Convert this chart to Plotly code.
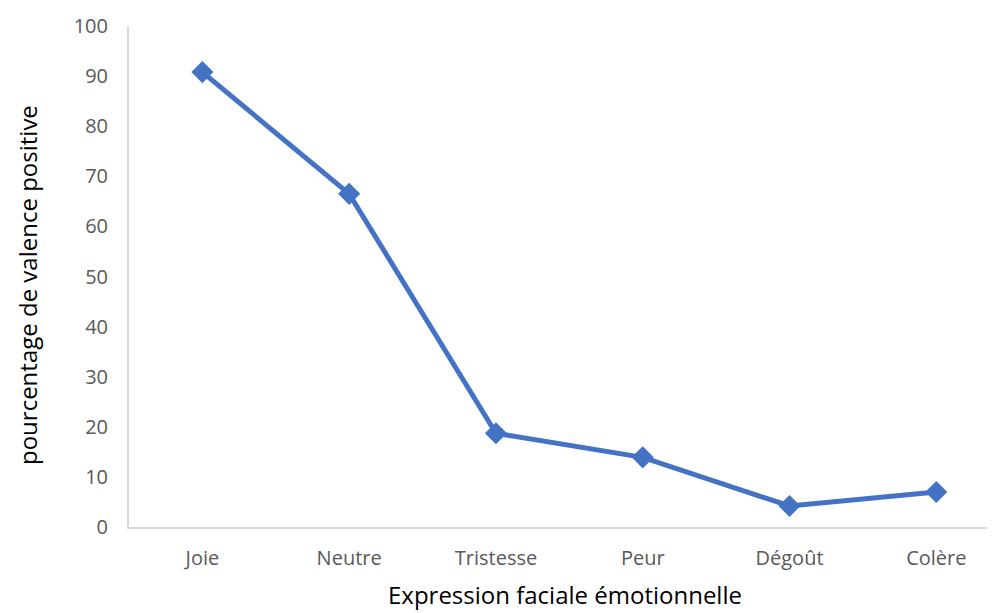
import plotly.graph_objects as go

categories = ["Joie", "Neutre", "Tristesse", "Peur", "Dégoût", "Colère"]
values = [90.8, 66.5, 18.7, 13.9, 4.2, 7.0]
y_ticks = [0, 10, 20, 30, 40, 50, 60, 70, 80, 90, 100]

# page body has an 8px margin, so the figure is sized/positioned accordingly
OFF = 8
W, H = 995 - OFF, 613 - OFF
L, R, T = 129 - OFF, 0, 26 - OFF
B = H - (527 - OFF)

fig = go.Figure()
fig.add_trace(go.Scatter(
    x=categories, y=values, mode="lines+markers",
    line=dict(color="#4472C4", width=5),
    marker=dict(symbol="diamond", size=17, color="#4472C4"),
    showlegend=False,
))

font_family = "Open Sans, Noto Sans, sans-serif"
fig.update_layout(
    width=W, height=H,
    margin=dict(l=L, r=R, t=T, b=B, autoexpand=False),
    paper_bgcolor="white", plot_bgcolor="white",
    font=dict(family=font_family),
)
fig.update_xaxes(
    type="category", range=[-0.5, 5.4], automargin=False,
    showgrid=False, showline=True, linecolor="#d9d9d9", linewidth=2,
    ticks="", tickfont=dict(size=20, color="#595959"),
    ticklabelstandoff=12,
)
fig.update_yaxes(
    range=[0, 100], tickvals=y_ticks, automargin=False,
    showgrid=False, showline=True, linecolor="#d9d9d9", linewidth=2,
    zeroline=False, ticks="", tickfont=dict(size=20, color="#595959"),
    ticklabelstandoff=15,
)
plot_w = W - L - R
plot_h = H - T - B
fig.add_annotation(
    text="Expression faciale émotionnelle", showarrow=False,
    xref="paper", yref="paper",
    x=(565 - OFF - L) / plot_w, y=-(B - 1) / plot_h,
    xanchor="center", yanchor="bottom", borderpad=0,
    font=dict(size=24, color="#000000"),
)
fig.add_annotation(
    text="pourcentage de valence positive", showarrow=False, textangle=-90,
    xref="paper", yref="paper",
    x=-(L - (27 - OFF)) / plot_w, y=(H - B - (285 - OFF)) / plot_h,
    xanchor="center", yanchor="middle",
    font=dict(size=24, color="#000000"),
)
fig.write_html("out.html")
